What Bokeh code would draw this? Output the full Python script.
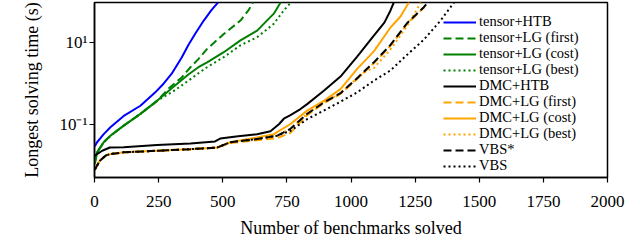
from bokeh.plotting import figure
from bokeh.models import Range1d, FixedTicker, Legend, LegendItem
from bokeh.embed import file_html
from bokeh.resources import INLINE

# ---- data (benchmarks solved, longest solving time in s) ----
htb_n = [1, 10, 36, 62, 114, 179, 237, 270, 301, 340, 366, 392, 426, 455, 482]
htb_t = [0.0282, 0.0355, 0.0562, 0.0832, 0.158, 0.282, 0.603, 1.0, 1.74, 4.37, 8.91, 16.6, 35.5, 63.1, 100]

lg_base_n = [1, 10, 36, 62, 114, 179, 244]
lg_base_t = [0.0105, 0.0200, 0.0355, 0.0513, 0.0912, 0.178, 0.372]

lg_cost_n = lg_base_n + [301, 366, 405, 439, 504, 569, 634, 699, 726]
lg_cost_t = lg_base_t + [0.759, 1.66, 2.51, 3.31, 5.89, 11.5, 20.0, 52.5, 100]

lg_first_n = lg_base_n + [290, 340, 374, 405, 439, 504, 569, 600, 618]
lg_first_t = lg_base_t + [0.759, 1.41, 2.51, 3.98, 7.08, 16.6, 35.5, 63.1, 100]

lg_best_n = lg_base_n + [301, 366, 405, 439, 504, 569, 634, 699, 738, 766]
lg_best_t = lg_base_t + [0.603, 1.17, 1.78, 2.51, 4.47, 8.71, 13.8, 29.5, 63.1, 100]

dmc_htb_n = [1, 30, 60, 114, 244, 374, 470, 490, 560, 634, 686, 720, 738, 764, 803,
             829, 894, 959, 1024, 1089, 1130, 1154, 1167]
dmc_htb_t = [0.0166, 0.0219, 0.0263, 0.0269, 0.0302, 0.0331, 0.0372, 0.0437, 0.0501,
             0.0562, 0.0661, 0.1, 0.135, 0.166, 0.234, 0.309, 0.661, 1.48, 4.57, 15.1,
             31.6, 63.1, 100]

dmc_base_n = [1, 20, 43, 62, 114, 244, 374, 478]
dmc_base_t = [0.00741, 0.0123, 0.0166, 0.0182, 0.0200, 0.0219, 0.0240, 0.0263]

vbs_star_n = dmc_base_n + [530, 634, 712, 764, 829, 894, 959, 1024, 1089, 1154, 1219, 1284, 1300]
vbs_star_t = dmc_base_t + [0.0355, 0.0427, 0.0513, 0.0759, 0.178, 0.339, 0.575, 1.35, 3.31,
                           8.91, 30.9, 75.9, 100]

dmc_first_n = dmc_base_n + [530, 634, 712, 764, 800, 829, 894, 959, 1024, 1089, 1154, 1219, 1284, 1298]
dmc_first_t = dmc_base_t + [0.0339, 0.0398, 0.0447, 0.0603, 0.107, 0.166, 0.324, 0.550, 1.29,
                            3.16, 8.51, 29.5, 74.1, 100]

dmc_cost_n = dmc_base_n + [530, 634, 699, 764, 829, 894, 959, 1024, 1089, 1154, 1193, 1226]
dmc_cost_t = dmc_base_t + [0.0355, 0.0468, 0.0562, 0.1, 0.214, 0.372, 0.724, 2.29, 6.17,
                           24.0, 44.7, 100]

dmc_best_n = dmc_base_n + [530, 634, 712, 764, 829, 894, 959, 1024, 1063, 1089, 1154, 1219, 1250, 1272]
dmc_best_t = dmc_base_t + [0.0355, 0.0427, 0.0513, 0.0759, 0.178, 0.339, 0.575, 1.35, 2.09,
                           2.40, 6.92, 26.3, 56.2, 100]

vbs_n = dmc_base_n + [530, 634, 712, 764, 829, 894, 959, 1024, 1089, 1154, 1219, 1284, 1349, 1388, 1402]
vbs_t = dmc_base_t + [0.0355, 0.0427, 0.0513, 0.0676, 0.132, 0.214, 0.355, 0.603, 1.17, 2.09,
                      5.13, 12.0, 35.5, 75.9, 100]

x_ticks = [0, 250, 500, 750, 1000, 1250, 1500, 1750, 2000]
y_ticks = [0.1, 10]
y_tick_labels = {0.1: "10\u207b\u00b9", 10: "10\u00b9"}

series = [
    ("tensor+HTB", htb_n, htb_t, "#0000ff", "solid"),
    ("tensor+LG (first)", lg_first_n, lg_first_t, "#008000", "dashed"),
    ("tensor+LG (cost)", lg_cost_n, lg_cost_t, "#008000", "solid"),
    ("tensor+LG (best)", lg_best_n, lg_best_t, "#008000", "dotted"),
    ("DMC+HTB", dmc_htb_n, dmc_htb_t, "#000000", "solid"),
    ("DMC+LG (first)", dmc_first_n, dmc_first_t, "#ffa500", "dashed"),
    ("DMC+LG (cost)", dmc_cost_n, dmc_cost_t, "#ffa500", "solid"),
    ("DMC+LG (best)", dmc_best_n, dmc_best_t, "#ffa500", "dotted"),
    ("VBS*", vbs_star_n, vbs_star_t, "#000000", "dashed"),
    ("VBS", vbs_n, vbs_t, "#000000", "dotted"),
]
dash_map = {"solid": "solid", "dashed": "8 4", "dotted": "2 3"}

FONT = "Liberation Serif"

p = figure(width=640, height=242, y_axis_type="log",
           x_range=Range1d(0, 2000), y_range=Range1d(0.0048, 99),
           output_backend="svg", toolbar_location=None,
           min_border_left=94, min_border_right=33, min_border_top=2, min_border_bottom=65)

renderers = []
for label, xs, ys, color, style in series:
    r = p.line(xs, ys, line_color=color, line_width=2, line_dash=dash_map[style])
    renderers.append((label, r))

p.grid.visible = False
p.outline_line_color = "black"
p.outline_line_width = 1.5

p.xaxis.ticker = FixedTicker(ticks=x_ticks, minor_ticks=[])
p.yaxis.ticker = FixedTicker(ticks=y_ticks, minor_ticks=[])
p.yaxis.major_label_overrides = y_tick_labels

for ax in (p.xaxis, p.yaxis):
    ax.axis_line_color = "black"
    ax.axis_line_width = 1.5
    ax.major_tick_line_width = 1.2
    ax.major_tick_in = 0
    ax.major_tick_out = 5
    ax.major_label_text_font = FONT
    ax.major_label_text_font_size = "17px"
    ax.major_label_text_color = "black"
    ax.axis_label_text_font = FONT
    ax.axis_label_text_font_size = "18px"
    ax.axis_label_text_font_style = "normal"
    ax.axis_label_text_color = "black"

p.xaxis.axis_label = "Number of benchmarks solved"
p.yaxis.axis_label = "Longest solving time (s)"
p.xaxis.major_label_standoff = 13
p.xaxis.axis_label_standoff = 8
p.yaxis.major_label_standoff = 2
p.yaxis.axis_label_standoff = 14

# one single-row legend per entry so the rows can sit 16 px apart
ROW = 16
for i, (label, r) in enumerate(renderers):
    lg = Legend(items=[LegendItem(label=label, renderers=[r])],
                location=(349, 147 - ROW * i),
                padding=0, margin=0, spacing=0,
                border_line_alpha=0, background_fill_alpha=0,
                glyph_width=33, glyph_height=16, label_height=16,
                label_standoff=3, label_text_font=FONT,
                label_text_font_size="14.5px", label_text_color="black")
    p.add_layout(lg, "center")

open("out.html", "w").write(file_html(p, INLINE))
